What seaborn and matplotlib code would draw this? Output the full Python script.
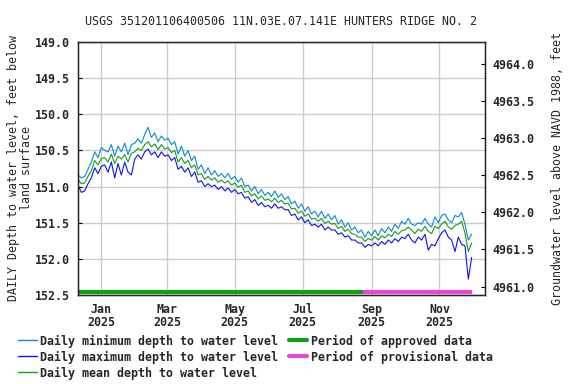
import pandas as pd
import matplotlib
matplotlib.use("Agg")
import matplotlib.pyplot as plt
import matplotlib.dates as mdates
from matplotlib.lines import Line2D
import seaborn as sns

# =====================================================
# DATA (one value every 3rd day)
# =====================================================

start_date = "2024-12-11"
step = "3D"
approved_end = "2025-08-24"
data_end = "2025-11-30"

min_depth = [
    150.84, 150.88, 150.86, 150.76, 150.66, 150.52, 150.60, 150.46, 150.50, 150.52,
    150.42, 150.58, 150.44, 150.52, 150.40, 150.56, 150.42, 150.40, 150.34, 150.40,
    150.28, 150.18, 150.32, 150.26, 150.38, 150.30, 150.36, 150.33, 150.42, 150.38,
    150.55, 150.44, 150.58, 150.50, 150.64, 150.58, 150.76, 150.70, 150.82, 150.74,
    150.84, 150.78, 150.86, 150.82, 150.88, 150.82, 150.90, 150.86, 150.94, 150.88,
    151.00, 150.98, 151.06, 151.00, 151.10, 151.04, 151.12, 151.08, 151.14, 151.06,
    151.15, 151.10, 151.18, 151.14, 151.24, 151.20, 151.30, 151.24, 151.34, 151.28,
    151.38, 151.34, 151.42, 151.34, 151.44, 151.38, 151.46, 151.40, 151.52, 151.46,
    151.56, 151.50, 151.60, 151.56, 151.64, 151.60, 151.70, 151.62, 151.68, 151.60,
    151.68, 151.58, 151.64, 151.56, 151.62, 151.52, 151.58, 151.48, 151.52, 151.44,
    151.52, 151.54, 151.50, 151.52, 151.44, 151.52, 151.56, 151.42, 151.50, 151.40,
    151.38, 151.46, 151.50, 151.40, 151.42, 151.36, 151.52, 151.74, 151.66,
]

max_depth = [
    150.98, 151.08, 151.06, 150.96, 150.88, 150.74, 150.82, 150.72, 150.70, 150.80,
    150.66, 150.88, 150.68, 150.84, 150.66, 150.80, 150.84, 150.62, 150.56, 150.62,
    150.52, 150.48, 150.56, 150.52, 150.60, 150.52, 150.58, 150.56, 150.64, 150.60,
    150.76, 150.72, 150.80, 150.74, 150.86, 150.80, 150.94, 150.92, 151.00, 150.96,
    151.00, 150.98, 151.04, 151.00, 151.06, 151.02, 151.08, 151.04, 151.10, 151.08,
    151.16, 151.14, 151.22, 151.18, 151.26, 151.22, 151.28, 151.26, 151.30, 151.24,
    151.30, 151.28, 151.32, 151.32, 151.40, 151.38, 151.46, 151.42, 151.50, 151.46,
    151.54, 151.52, 151.56, 151.52, 151.60, 151.56, 151.60, 151.60, 151.66, 151.64,
    151.70, 151.68, 151.74, 151.74, 151.78, 151.78, 151.84, 151.80, 151.82, 151.78,
    151.82, 151.76, 151.80, 151.74, 151.78, 151.72, 151.76, 151.70, 151.72, 151.66,
    151.74, 151.78, 151.70, 151.74, 151.66, 151.88, 151.80, 151.82, 151.72, 151.64,
    151.60, 151.70, 151.74, 151.90, 151.70, 151.80, 151.82, 152.28, 151.98,
]

mean_depth = [
    150.90, 150.96, 150.95, 150.86, 150.78, 150.64, 150.70, 150.61, 150.60, 150.66,
    150.55, 150.68, 150.58, 150.62, 150.56, 150.66, 150.54, 150.52, 150.47, 150.50,
    150.42, 150.38, 150.45, 150.41, 150.49, 150.42, 150.48, 150.46, 150.53, 150.50,
    150.66, 150.60, 150.68, 150.64, 150.74, 150.70, 150.84, 150.82, 150.90, 150.86,
    150.91, 150.88, 150.94, 150.91, 150.95, 150.92, 150.98, 150.95, 151.01, 150.98,
    151.08, 151.06, 151.13, 151.10, 151.17, 151.13, 151.19, 151.17, 151.21, 151.16,
    151.22, 151.19, 151.24, 151.23, 151.31, 151.30, 151.37, 151.34, 151.41, 151.38,
    151.45, 151.44, 151.48, 151.44, 151.51, 151.48, 151.52, 151.51, 151.58, 151.55,
    151.62, 151.59, 151.65, 151.66, 151.70, 151.70, 151.76, 151.72, 151.74, 151.69,
    151.74, 151.68, 151.71, 151.66, 151.69, 151.62, 151.66, 151.61, 151.60, 151.56,
    151.60, 151.65, 151.59, 151.62, 151.55, 151.62, 151.65, 151.55, 151.58, 151.52,
    151.48, 151.56, 151.59, 151.54, 151.52, 151.48, 151.64, 151.90, 151.78,
]

depth_ticks = [149.0, 149.5, 150.0, 150.5, 151.0, 151.5, 152.0, 152.5]
elev_ticks = [4961.0, 4961.5, 4962.0, 4962.5, 4963.0, 4963.5, 4964.0]

title = "USGS 351201106400506 11N.03E.07.141E HUNTERS RIDGE NO. 2"

# =====================================================
# STYLE
# =====================================================

sns.set_style("white")
plt.rcParams["font.family"] = ["DejaVu Sans Mono"]
plt.rcParams["font.weight"] = "bold"
plt.rcParams["font.size"] = 8.4

c_min = "#0a8ad2"
c_max = "#1010ee"
c_mean = "#10a010"
c_appr = "#10a010"
c_prov = "#ee44dd"

dates = pd.date_range(start_date, periods=len(mean_depth), freq=step)
df = pd.DataFrame({"date": dates, "min": min_depth, "max": max_depth, "mean": mean_depth})

# =====================================================
# PLOT
# =====================================================

fig = plt.figure(figsize=(5.76, 3.84), dpi=100)
ax = fig.add_axes([0.1354, 0.2318, 0.7066, 0.6588])

sns.lineplot(data=df, x="date", y="min", color=c_min, linewidth=0.8, ax=ax)
sns.lineplot(data=df, x="date", y="max", color=c_max, linewidth=0.8, ax=ax)
sns.lineplot(data=df, x="date", y="mean", color=c_mean, linewidth=0.8, ax=ax)

# approval status bar along the bottom
bar_y = 152.46
ax.plot([pd.Timestamp(start_date), pd.Timestamp(approved_end)], [bar_y, bar_y],
        color=c_appr, linewidth=3, solid_capstyle="butt")
ax.plot([pd.Timestamp(approved_end), pd.Timestamp(data_end)], [bar_y, bar_y],
        color=c_prov, linewidth=3, solid_capstyle="butt")

ax.set_xlim(pd.Timestamp("2024-12-11"), pd.Timestamp("2025-12-12"))
ax.set_ylim(152.5, 149.0)
ax.set_yticks(depth_ticks)
ax.set_yticklabels([f"{v:.1f}" for v in depth_ticks])
ax.xaxis.set_major_locator(mdates.MonthLocator(bymonth=[1, 3, 5, 7, 9, 11]))
ax.xaxis.set_major_formatter(mdates.DateFormatter("%b\n%Y"))
ax.grid(True, color="#cccccc", linewidth=1)
ax.set_xlabel("")
ax.set_ylabel("DAILY Depth to water level, feet below\nland surface",
              labelpad=1, linespacing=1.0)
ax.set_title(title, fontsize=8.4, pad=12)
ax.tick_params(direction="in", length=3, width=0.8, color="black", pad=6)
for lbl in ax.get_xticklabels():
    lbl.set_linespacing(1.0)
for s in ax.spines.values():
    s.set_color("black")
    s.set_linewidth(1)

ax2 = ax.twinx()
ax2.set_ylim(4960.886, 4964.30)
ax2.set_yticks(elev_ticks)
ax2.set_yticklabels([f"{v:.1f}" for v in elev_ticks])
ax2.set_ylabel("Groundwater level above NAVD 1988, feet", labelpad=12)
ax2.tick_params(direction="in", length=3, width=0.8, color="black", pad=5)
ax2.grid(False)

handles = [
    Line2D([], [], color=c_min, linewidth=1),
    Line2D([], [], color=c_max, linewidth=1),
    Line2D([], [], color=c_mean, linewidth=1),
    Line2D([], [], color=c_appr, linewidth=3),
    Line2D([], [], color=c_prov, linewidth=3),
]
labels = [
    "Daily minimum depth to water level",
    "Daily maximum depth to water level",
    "Daily mean depth to water level",
    "Period of approved data",
    "Period of provisional data",
]
fig.legend(handles, labels, ncol=2, loc="upper left", bbox_to_anchor=(0.031, 0.129),
           frameon=False, handlelength=1.6, handletextpad=0.3, columnspacing=0.9,
           labelspacing=0.25, borderaxespad=0, borderpad=0)

fig.savefig("out.png", dpi=100)
